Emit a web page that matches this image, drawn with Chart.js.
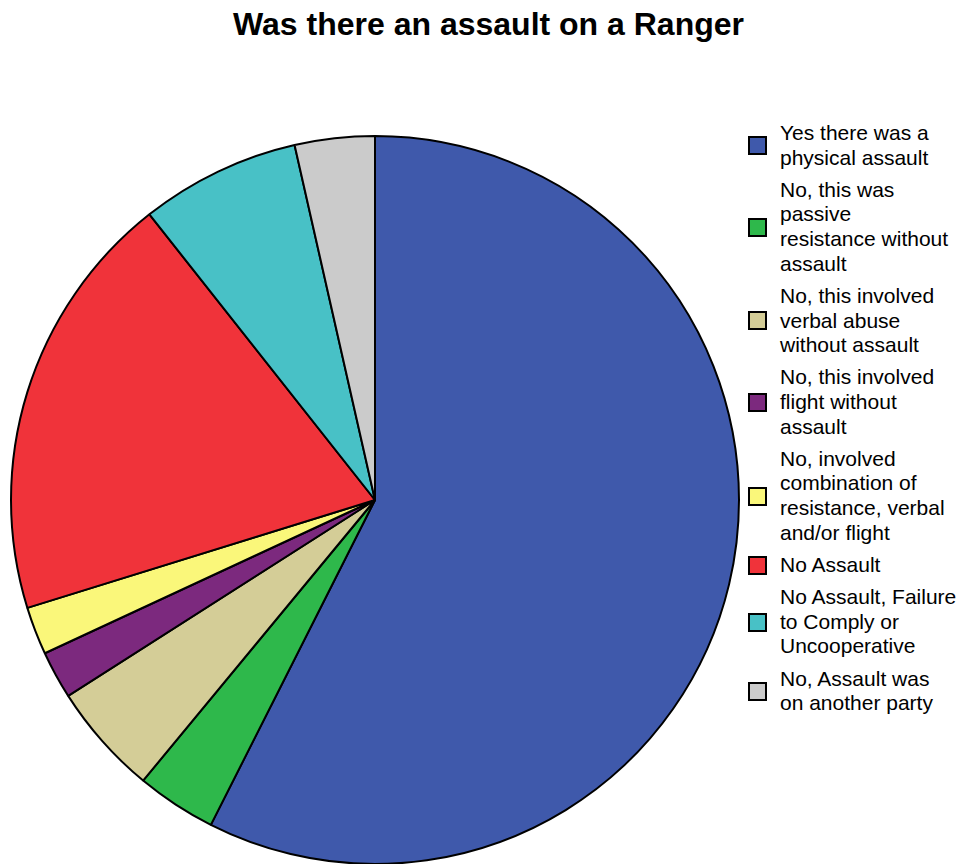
<!DOCTYPE html>
<html>
<head>
<meta charset="utf-8">
<script src="https://cdn.jsdelivr.net/npm/chart.js@4/dist/chart.umd.min.js"></script>
<style>
  html, body { margin: 0; padding: 0; background: #fff; width: 960px; height: 864px; overflow: hidden; }
  body { position: relative; font-family: "Liberation Sans", Arial, sans-serif; }
  #title { position: absolute; left: 0; top: 8px; width: 977px; text-align: center; font-weight: bold; font-size: 32px; line-height: 32px; color: #000; }
  #wrap { position: absolute; left: 10px; top: 135px; width: 730px; height: 730px; }
  #legend { position: absolute; left: 748px; top: 121px; display: flex; flex-direction: column; gap: 7.7px; }
  .item { display: flex; align-items: center; }
  .sw { width: 15px; height: 15px; border: 2px solid #000; flex: none; margin-right: 13px; }
  .txt { font-size: 21px; line-height: 24.6px; color: #000; white-space: nowrap; }
</style>
</head>
<body>
<div id="title"></div>
<div id="wrap"><canvas id="c" width="730" height="730"></canvas></div>
<div id="legend"></div>
<script>
const chartTitle = "Was there an assault on a Ranger";
const categories = [
  ["Yes there was a", "physical assault"],
  ["No, this was", "passive", "resistance without", "assault"],
  ["No, this involved", "verbal abuse", "without assault"],
  ["No, this involved", "flight without", "assault"],
  ["No, involved", "combination of", "resistance, verbal", "and/or flight"],
  ["No Assault"],
  ["No Assault, Failure", "to Comply or", "Uncooperative"],
  ["No, Assault was", "on another party"]
];
const counts = [81, 5, 7, 3, 3, 27, 10, 5];
const colors = ["#3F59AB", "#2EB84B", "#D4CD97", "#7C297E", "#FAF77A", "#F0333A", "#48C1C6", "#CBCBCB"];

document.getElementById("title").textContent = chartTitle;

const legend = document.getElementById("legend");
categories.forEach((lines, i) => {
  const item = document.createElement("div");
  item.className = "item";
  const sw = document.createElement("div");
  sw.className = "sw";
  sw.style.background = colors[i];
  const txt = document.createElement("div");
  txt.className = "txt";
  lines.forEach((l, j) => {
    if (j) txt.appendChild(document.createElement("br"));
    txt.appendChild(document.createTextNode(l));
  });
  item.appendChild(sw);
  item.appendChild(txt);
  legend.appendChild(item);
});

new Chart(document.getElementById("c"), {
  type: "pie",
  data: {
    labels: categories.map(l => l.join(" ")),
    datasets: [{
      data: counts,
      backgroundColor: colors,
      borderColor: "#000",
      borderWidth: 2,
      hoverOffset: 0
    }]
  },
  options: {
    responsive: false,
    animation: false,
    layout: { padding: 0 },
    plugins: {
      legend: { display: false },
      title: { display: false },
      tooltip: { enabled: false }
    }
  }
});
</script>
</body>
</html>
